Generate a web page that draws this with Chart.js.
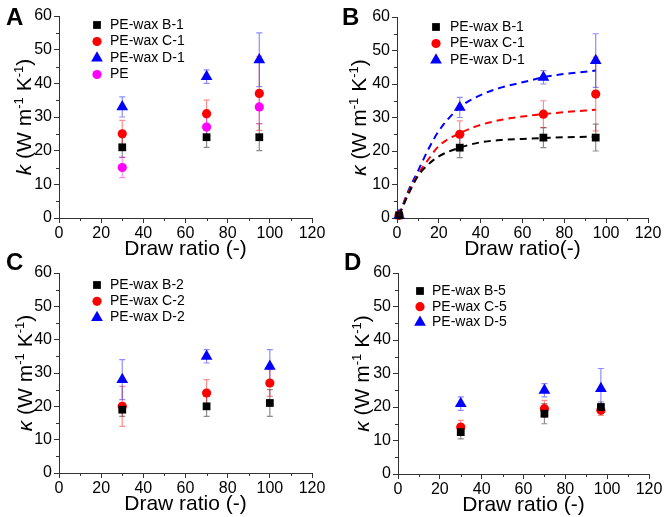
<!DOCTYPE html>
<html>
<head>
<meta charset="utf-8">
<script src="https://cdn.jsdelivr.net/npm/chart.js@4.4.1/dist/chart.umd.min.js"></script>
<style>
  body{margin:0;background:#fff;width:666px;height:517px;overflow:hidden;position:relative;}
  canvas{position:absolute;}
</style>
</head>
<body>
<canvas id="panelA" width="333" height="262" style="left:0;top:0"></canvas>
<canvas id="panelB" width="333" height="262" style="left:333px;top:0"></canvas>
<canvas id="panelC" width="333" height="271" style="left:0;top:246px"></canvas>
<canvas id="panelD" width="333" height="271" style="left:333px;top:246px"></canvas>
<script>
const FONT="'Liberation Sans', Arial, sans-serif";

// ---- data ----
// panel A / B  (series -1)
const drawA=[30,70,95];
const kB1=[21,24,24],  errB1=[3,3,4];
const kC1=[25,31,37],  errC1=[4,4,11];
const kD1=[33,42,47],  errD1=[3,2,8];
const kPE=[15,27,33],  errPE=[3,3,5];
// panel B adds the sample near the origin
const originX=1, originK=0.8;
// dashed fit curves of panel B
const fitX =[1,5,10,15,20,30,40,50,60,70,80,95];
const fitB1=[0.8,6.5,12.5,16,18.4,21,22.6,23.3,23.6,23.9,24.1,24.3];
const fitC1=[0.8,7,13,17.5,21.5,25.3,27.8,29.3,30.3,31,31.6,32.3];
const fitD1=[0.8,7.5,14,20.5,26,33,36.7,39,40.5,42,43,44];
// panel C  (series -2)
const drawC=[30,70,100];
const kB2=[19,20,21],  errB2=[2,3,4];
const kC2=[20,24,27],  errC2=[6,4,4];
const kD2=[28,35,32],  errD2=[6,2,5];
// panel D  (series -5)
const drawD=[30,70,97];
const kB5=[12.5,18,20], errB5=[2,3,1.5];
const kC5=[14,19.5,19], errC5=[2,2.5,1.5];
const kD5=[21,25,25.5], errD5=[2,2,6];

const xTicks=[0,20,40,60,80,100,120];
const yTicks=[0,10,20,30,40,50,60];

const STY={
  black:{color:'#000000',err:'rgba(0,0,0,0.45)',shape:'rect',r:5.5},
  red:{color:'#ff0000',err:'rgba(255,0,0,0.45)',shape:'circle',r:4.6},
  blue:{color:'#0000ff',err:'rgba(0,0,255,0.45)',shape:'triangle',r:6.8},
  pink:{color:'#ff00ff',err:'rgba(255,0,255,0.45)',shape:'circle',r:4.6}
};

function series(label,xs,ys,errs,sty){
  let s=STY[sty];
  return {label:label,legend:true,
    data:xs.map((x,i)=>({x:x,y:ys[i]})),err:errs,errColor:s.err,
    pointStyle:s.shape,pointRadius:s.r,pointBackgroundColor:s.color,pointBorderColor:s.color,
    pointBorderWidth:0,showLine:false,clip:false};
}
function fit(xs,ys,color){
  return {data:xs.map((x,i)=>({x:x,y:ys[i]})),showLine:true,pointRadius:0,
    borderColor:color,borderWidth:2,borderDash:[7,5],cubicInterpolationMode:'monotone',clip:false};
}

// error bars, drawn under the markers
const errorBars={
  id:'errorBars',
  beforeDatasetsDraw(chart){
    const ctx=chart.ctx,xs=chart.scales.x,ys=chart.scales.y;
    chart.data.datasets.forEach(ds=>{
      if(!ds.err) return;
      ctx.save();
      ctx.strokeStyle=ds.errColor;ctx.lineWidth=1.2;
      ds.data.forEach((p,i)=>{
        let e=ds.err[i]; if(!e) return;
        let x=xs.getPixelForValue(p.x),y1=ys.getPixelForValue(p.y-e),y2=ys.getPixelForValue(p.y+e);
        ctx.beginPath();
        ctx.moveTo(x,y1);ctx.lineTo(x,y2);
        ctx.moveTo(x-3,y1);ctx.lineTo(x+3,y1);
        ctx.moveTo(x-3,y2);ctx.lineTo(x+3,y2);
        ctx.stroke();
      });
      ctx.restore();
    });
  }
};

// legend, axis titles, minor ticks, panel letter
const decor={
  id:'decor',
  afterDraw(chart,args,o){
    const ctx=chart.ctx,a=chart.chartArea,xs=chart.scales.x,ys=chart.scales.y;
    ctx.save();
    // minor ticks
    ctx.strokeStyle='#333';ctx.lineWidth=1;ctx.beginPath();
    for(let v=10;v<120;v+=20){let x=Math.round(xs.getPixelForValue(v))+0.5;ctx.moveTo(x,a.bottom);ctx.lineTo(x,a.bottom+3);}
    for(let v=5;v<60;v+=10){let y=Math.round(ys.getPixelForValue(v))+0.5;ctx.moveTo(a.left,y);ctx.lineTo(a.left-3,y);}
    ctx.stroke();
    // legend
    let row=0;
    chart.data.datasets.forEach(ds=>{
      if(!ds.legend) return;
      let y=o.legY+row*o.legDy;
      ctx.fillStyle=ds.pointBackgroundColor;ctx.strokeStyle=ds.pointBackgroundColor;
      Chart.helpers.drawPoint(ctx,{pointStyle:ds.pointStyle,radius:ds.pointRadius,rotation:0,borderWidth:0},o.legX,y);
      ctx.fillStyle='#000';ctx.font='14px '+FONT;ctx.textBaseline='middle';ctx.textAlign='left';
      ctx.fillText(ds.label,o.legTx,y);
      row++;
    });
    // x title
    ctx.fillStyle='#000';ctx.font='21px '+FONT;ctx.textAlign='center';ctx.textBaseline='middle';
    ctx.fillText(o.xTitle,(a.left+a.right)/2,a.bottom+31);
    // y title with italic symbol and superscripts
    let segs=[[o.sym,'italic 21px',0],[' (W m','21px',0],['-1','13px',-8],[' K','21px',0],['-1','13px',-8],[')','21px',0]];
    let total=0;
    segs.forEach(s=>{ctx.font=s[1]+' '+FONT;total+=ctx.measureText(s[0]).width;});
    ctx.translate(o.yTitleX,(a.top+a.bottom)/2);ctx.rotate(-Math.PI/2);
    ctx.textAlign='left';ctx.textBaseline='alphabetic';
    let cx=-total/2;
    segs.forEach(s=>{ctx.font=s[1]+' '+FONT;ctx.fillText(s[0],cx,7+s[2]);cx+=ctx.measureText(s[0]).width;});
    ctx.setTransform(1,0,0,1,0,0);
    // panel letter
    ctx.font='bold 24px '+FONT;ctx.textAlign='left';ctx.textBaseline='alphabetic';
    ctx.fillText(o.letter,o.letX,o.letY);
    ctx.restore();
  }
};

function makePanel(id,area,datasets,d){
  const cv=document.getElementById(id);
  const W=cv.width,H=cv.height;
  const tickFont={size:16,family:FONT};
  new Chart(cv,{
    type:'scatter',
    data:{datasets:datasets},
    options:{
      responsive:false,animation:false,
      layout:{padding:{left:0,top:area.t,right:W-area.r,bottom:0}},
      plugins:{legend:{display:false},tooltip:{enabled:false},decor:d},
      scales:{
        x:{type:'linear',min:0,max:120,
          afterBuildTicks(s){s.ticks=xTicks.map(v=>({value:v}));},
          ticks:{color:'#000',font:tickFont,padding:1,maxRotation:0,autoSkip:false},
          grid:{drawOnChartArea:false,tickLength:5,color:'#333'},
          border:{color:'#333',width:1},
          afterFit(s){s.height=H-area.b;}},
        y:{type:'linear',min:0,max:60,
          afterBuildTicks(s){s.ticks=yTicks.map(v=>({value:v}));},
          ticks:{color:'#000',font:tickFont,padding:2,autoSkip:false},
          grid:{drawOnChartArea:false,tickLength:5,color:'#333'},
          border:{color:'#333',width:1},
          afterFit(s){s.width=area.l;}}
      }
    },
    plugins:[errorBars,decor]
  });
}

const withOrigin=arr=>[originK].concat(arr);
const drawB=[originX].concat(drawA);

makePanel('panelA',{l:59,t:16,r:312,b:218},[
  series('PE-wax B-1',drawA,kB1,errB1,'black'),
  series('PE-wax C-1',drawA,kC1,errC1,'red'),
  series('PE-wax D-1',drawA,kD1,errD1,'blue'),
  series('PE',drawA,kPE,errPE,'pink')
],{legX:97,legTx:110,legY:25,legDy:16.5,xTitle:'Draw ratio (-)',sym:'k',yTitleX:24,letter:'A',letX:6,letY:25});

makePanel('panelB',{l:64,t:17,r:315,b:218},[
  fit(fitX,fitB1,'#000000'),
  fit(fitX,fitC1,'#ff0000'),
  fit(fitX,fitD1,'#0000ff'),
  series('PE-wax B-1',drawB,withOrigin(kB1),[0].concat(errB1),'black'),
  series('PE-wax C-1',drawB,withOrigin(kC1),[0].concat(errC1),'red'),
  series('PE-wax D-1',drawB,withOrigin(kD1),[0].concat(errD1),'blue')
],{legX:103,legTx:117,legY:27,legDy:16.5,xTitle:'Draw ratio(-)',sym:'κ',yTitleX:26,letter:'B',letX:9,letY:25});

makePanel('panelC',{l:59,t:27,r:312,b:227},[
  series('PE-wax B-2',drawC,kB2,errB2,'black'),
  series('PE-wax C-2',drawC,kC2,errC2,'red'),
  series('PE-wax D-2',drawC,kD2,errD2,'blue')
],{legX:97,legTx:110,legY:39,legDy:16.3,xTitle:'Draw ratio (-)',sym:'κ',yTitleX:25,letter:'C',letX:6,letY:24});

makePanel('panelD',{l:65,t:27,r:316,b:228},[
  series('PE-wax B-5',drawD,kB5,errB5,'black'),
  series('PE-wax C-5',drawD,kC5,errC5,'red'),
  series('PE-wax D-5',drawD,kD5,errD5,'blue')
],{legX:87,legTx:99,legY:45,legDy:15.7,xTitle:'Draw ratio (-)',sym:'κ',yTitleX:29,letter:'D',letX:11,letY:24});
</script>
</body>
</html>
